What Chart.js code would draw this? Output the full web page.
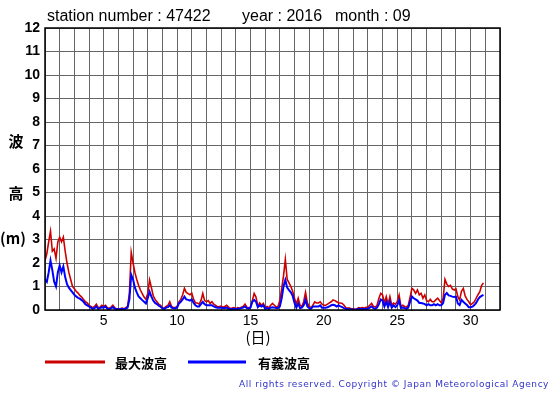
<!DOCTYPE html>
<html><head><meta charset="utf-8">
<script src="https://cdn.jsdelivr.net/npm/chart.js@4/dist/chart.umd.min.js"></script>
<style>html,body{margin:0;padding:0;background:#fff}#wrap{width:555px;height:395px;position:relative}</style>
</head><body><div id="wrap"><canvas id="c" width="555" height="395"></canvas></div>
<script>
const titleParts = ["station number : 47422", "year : 2016", "month : 09"];
const seriesNames = ["最大波高", "有義波高"];
const xTickLabels = [5, 10, 15, 20, 25, 30];
const yTickLabels = [0,1,2,3,4,5,6,7,8,9,10,11,12];
const startDay = 1;
const stepHours = 3;
// 最大波高 (m), every 3 h from day 1 00h
const maxWave = [
2.1,2.4,2.9,3.35,2.5,2.6,2.2,2.9,
3.1,2.9,3.1,2.5,2.0,1.6,1.3,1.0,
0.9,0.8,0.72,0.62,0.55,0.45,0.35,0.3,
0.2,0.15,0.1,0.15,0.25,0.1,0.12,0.2,
0.15,0.2,0.1,0.08,0.12,0.2,0.1,0.05,
0.05,0.05,0.08,0.05,0.1,0.15,0.7,2.45,
2.0,1.6,1.3,1.05,0.85,0.7,0.55,0.45,
0.7,1.28,0.95,0.6,0.45,0.35,0.25,0.2,
0.1,0.08,0.15,0.2,0.35,0.15,0.1,0.1,
0.15,0.35,0.45,0.64,0.92,0.75,0.7,0.65,
0.72,0.45,0.3,0.3,0.25,0.4,0.7,0.4,
0.35,0.4,0.28,0.35,0.25,0.2,0.14,0.15,
0.17,0.12,0.15,0.2,0.12,0.07,0.08,0.1,
0.05,0.1,0.08,0.12,0.15,0.25,0.12,0.1,
0.12,0.4,0.7,0.55,0.15,0.3,0.2,0.28,
0.1,0.15,0.1,0.2,0.28,0.2,0.12,0.15,
0.4,0.9,1.45,2.15,1.3,1.15,1.0,0.8,
0.5,0.25,0.5,0.2,0.15,0.35,0.75,0.3,
0.15,0.1,0.2,0.35,0.3,0.3,0.35,0.25,
0.2,0.2,0.25,0.3,0.35,0.43,0.4,0.35,
0.3,0.3,0.28,0.2,0.1,0.08,0.08,0.05,
0.05,0.03,0.05,0.1,0.08,0.1,0.08,0.12,
0.12,0.2,0.28,0.15,0.12,0.2,0.5,0.71,
0.64,0.3,0.57,0.25,0.57,0.2,0.3,0.25,
0.35,0.64,0.15,0.2,0.15,0.12,0.2,0.55,
0.92,0.85,0.71,0.85,0.64,0.71,0.5,0.64,
0.4,0.35,0.45,0.35,0.35,0.43,0.5,0.4,
0.3,0.5,1.3,1.1,1.0,1.05,0.9,0.85,
0.9,0.57,0.43,0.8,0.92,0.6,0.45,0.35,
0.22,0.28,0.35,0.5,0.65,0.78,1.05,1.15
];
// 有義波高 (m)
const sigWave = [
1.3,1.2,1.6,2.1,1.7,1.2,1.0,1.6,
1.9,1.6,1.85,1.4,1.1,0.95,0.85,0.75,
0.65,0.58,0.52,0.48,0.42,0.35,0.25,0.2,
0.15,0.1,0.05,0.08,0.15,0.05,0.08,0.12,
0.1,0.15,0.05,0.03,0.08,0.12,0.06,0.03,
0.03,0.03,0.05,0.03,0.05,0.1,0.45,1.5,
1.3,0.95,0.75,0.58,0.5,0.42,0.35,0.28,
0.5,0.78,0.57,0.4,0.3,0.25,0.18,0.14,
0.07,0.05,0.1,0.12,0.2,0.1,0.07,0.07,
0.1,0.28,0.35,0.45,0.57,0.45,0.43,0.4,
0.45,0.3,0.2,0.15,0.15,0.25,0.35,0.25,
0.2,0.2,0.2,0.2,0.15,0.12,0.1,0.1,
0.1,0.08,0.08,0.1,0.05,0.03,0.04,0.05,
0.03,0.05,0.05,0.08,0.1,0.15,0.08,0.06,
0.1,0.35,0.43,0.35,0.12,0.2,0.15,0.2,
0.05,0.08,0.05,0.1,0.12,0.1,0.08,0.08,
0.15,0.5,1.0,1.28,0.95,0.85,0.75,0.6,
0.3,0.1,0.28,0.08,0.1,0.2,0.43,0.15,
0.08,0.05,0.15,0.15,0.15,0.15,0.2,0.1,
0.1,0.1,0.12,0.15,0.2,0.22,0.2,0.15,
0.2,0.15,0.12,0.08,0.05,0.03,0.03,0.02,
0.02,0.01,0.02,0.05,0.03,0.05,0.03,0.05,
0.05,0.1,0.15,0.08,0.05,0.1,0.25,0.45,
0.4,0.15,0.35,0.12,0.35,0.1,0.2,0.12,
0.2,0.4,0.08,0.1,0.08,0.05,0.1,0.35,
0.57,0.5,0.45,0.4,0.3,0.3,0.28,0.25,
0.2,0.25,0.2,0.2,0.25,0.2,0.25,0.2,
0.2,0.3,0.65,0.72,0.62,0.6,0.57,0.55,
0.57,0.28,0.21,0.43,0.35,0.28,0.21,0.12,
0.12,0.14,0.21,0.3,0.45,0.55,0.6,0.64
];
const toPoints = arr => arr.map((v, i) => ({x: startDay + i * stepHours / 24, y: v}));

const decor = {
  id: 'decor',
  afterDraw(chart) {
    const ctx = chart.ctx;
    const a = chart.chartArea;
    ctx.save();
    ctx.strokeStyle = '#000'; ctx.lineWidth = 1.5;
    ctx.strokeRect(a.left, a.top, a.right - a.left, a.bottom - a.top);
    ctx.fillStyle = '#000';
    ctx.font = '16px "Liberation Sans", Arial, sans-serif';
    ctx.textBaseline = 'alphabetic'; ctx.textAlign = 'left';
    ctx.fillText(titleParts[0], 47, 21);
    ctx.fillText(titleParts[1], 242, 21);
    ctx.fillText(titleParts[2], 335, 21);
    ctx.font = 'bold 15px "Noto Sans CJK JP", sans-serif';
    ctx.textAlign = 'center'; ctx.textBaseline = 'middle';
    ctx.fillText('波', 16, 141);
    ctx.fillText('高', 16, 193);
    ctx.fillText('(m)', 13, 238);
    ctx.font = '15px "Noto Sans CJK JP", sans-serif';
    ctx.fillText('(日)', 258, 337);
    ctx.lineWidth = 3;
    ctx.strokeStyle = '#cc0000';
    ctx.beginPath(); ctx.moveTo(45, 362); ctx.lineTo(105, 362); ctx.stroke();
    ctx.strokeStyle = '#0000ff';
    ctx.beginPath(); ctx.moveTo(188, 362); ctx.lineTo(246, 362); ctx.stroke();
    ctx.fillStyle = '#000';
    ctx.font = 'bold 13px "Noto Sans CJK JP", sans-serif';
    ctx.textAlign = 'left';
    ctx.fillText(seriesNames[0], 115, 363);
    ctx.fillText(seriesNames[1], 258, 363);
    ctx.fillStyle = '#3333cc';
    ctx.font = '9px "DejaVu Sans", sans-serif';
    ctx.textAlign = 'right';
    try { ctx.letterSpacing = '0.55px'; } catch (e) {}
    ctx.fillText('All rights reserved. Copyright © Japan Meteorological Agency', 549, 385);
    ctx.restore();
  }
};

new Chart(document.getElementById('c'), {
  type: 'line',
  data: {
    datasets: [
      {label: seriesNames[1], data: toPoints(sigWave), borderColor: '#0000ff', borderWidth: 2, pointRadius: 0, tension: 0, order: 0},
      {label: seriesNames[0], data: toPoints(maxWave), borderColor: '#cc0000', borderWidth: 1.6, pointRadius: 0, tension: 0, order: 1}
    ]
  },
  options: {
    responsive: false, animation: false, events: [],
    layout: {padding: {left: 0, right: 55, top: 28, bottom: 0}},
    plugins: {legend: {display: false}, tooltip: {enabled: false}, title: {display: false}},
    scales: {
      x: {
        type: 'linear', min: 1, max: 32,
        afterBuildTicks(axis) { const t = []; for (let v = 1; v <= 32; v++) t.push({value: v}); axis.ticks = t; },
        afterFit(axis) { axis.height = 85; },
        ticks: {autoSkip: false, maxRotation: 0, color: '#000', padding: 3,
          font: {family: '"Liberation Sans", Arial, sans-serif', size: 14},
          callback: v => xTickLabels.includes(v) ? String(v) : ''},
        grid: {color: '#666', lineWidth: 1, drawTicks: false},
        border: {display: false}
      },
      y: {
        min: 0, max: 12,
        afterBuildTicks(axis) { axis.ticks = yTickLabels.map(v => ({value: v})); },
        afterFit(axis) { axis.width = 45; },
        ticks: {color: '#000', padding: 5,
          font: {family: '"Liberation Sans", Arial, sans-serif', size: 14, weight: 'bold'}},
        grid: {color: '#666', lineWidth: 1, drawTicks: false},
        border: {display: false}
      }
    }
  },
  plugins: [decor]
});
</script>
</body></html>
